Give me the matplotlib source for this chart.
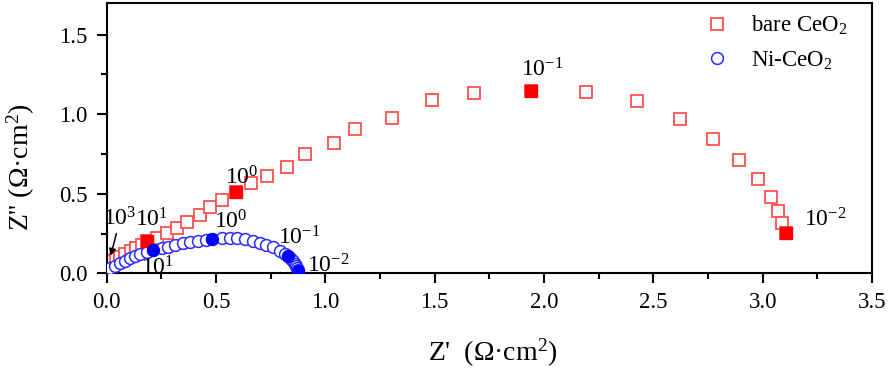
import numpy as np
import matplotlib
matplotlib.use("Agg")
import matplotlib.pyplot as plt
from matplotlib.ticker import MultipleLocator

plt.rcParams['font.family'] = ['Liberation Serif', 'DejaVu Serif']
plt.rcParams['mathtext.fontset'] = 'custom'
plt.rcParams['mathtext.rm'] = 'Liberation Serif'
plt.rcParams['mathtext.it'] = 'Liberation Serif:italic'

# bare CeO2 (Z', Z'')
bare_x = [0.004, 0.010, 0.018, 0.030, 0.045, 0.063, 0.085, 0.110, 0.135, 0.160,
          0.187,
          0.231, 0.276, 0.322, 0.368, 0.427, 0.473, 0.527,
          0.591,
          0.660, 0.733, 0.824, 0.906, 1.039, 1.135, 1.304, 1.486, 1.678,
          1.943,
          2.194, 2.427, 2.623, 2.774, 2.893, 2.979, 3.039, 3.071, 3.089,
          3.107]
bare_y = [0.045, 0.055, 0.065, 0.078, 0.090, 0.105, 0.122, 0.140, 0.158, 0.178,
          0.200,
          0.221, 0.253, 0.284, 0.322, 0.366, 0.416, 0.460,
          0.510,
          0.566, 0.610, 0.667, 0.748, 0.817, 0.905, 0.974, 1.087, 1.131,
          1.144,
          1.137, 1.081, 0.968, 0.843, 0.711, 0.592, 0.479, 0.391, 0.315,
          0.253]
bare_dec = [10, 18, 28, 38]   # indices of the 10^1, 10^0, 10^-1, 10^-2 points

# Ni-CeO2
ni_x = [0.004, 0.008, 0.016, 0.039, 0.062, 0.084, 0.107, 0.130, 0.153, 0.183,
        0.214,
        0.252, 0.283, 0.313, 0.351, 0.381, 0.419, 0.454,
        0.484,
        0.526, 0.564, 0.597, 0.632, 0.668, 0.701, 0.731, 0.762, 0.792, 0.815,
        0.830,
        0.843, 0.853, 0.861, 0.867, 0.871, 0.874, 0.876]
ni_y = [0.010, 0.020, 0.031, 0.046, 0.063, 0.077, 0.094, 0.109, 0.121, 0.136,
        0.146,
        0.157, 0.167, 0.177, 0.188, 0.194, 0.205, 0.209,
        0.216,
        0.219, 0.224, 0.222, 0.213, 0.205, 0.192, 0.178, 0.163, 0.142, 0.121,
        0.106,
        0.090, 0.075, 0.060, 0.046, 0.033, 0.022, 0.012]
ni_dec = [10, 18, 29, 36]

# frequency labels: (text, x, y)
bare_labels = [(r'$10^{1}$', 0.207, 0.334), (r'$10^{0}$', 0.62, 0.60),
               (r'$10^{-1}$', 1.99, 1.28), (r'$10^{-2}$', 3.286, 0.334)]
ni_labels = [(r'$10^{1}$', 0.231, 0.033), (r'$10^{0}$', 0.569, 0.322),
             (r'$10^{-1}$', 0.879, 0.221), (r'$10^{-2}$', 1.016, 0.046)]

red_edge = '#ff5050'
blue_edge = '#2a2aff'

fig = plt.figure(figsize=(8.93, 3.71), dpi=100)
ax = fig.add_axes([0.1193, 0.2633, 0.8572, 0.7294])

ax.plot(bare_x, bare_y, 's', ms=8, mfc='white', mec=red_edge, mew=1.3,
        ls='none', label='bare CeO$_2$', zorder=2)
ax.plot(ni_x, ni_y, 'o', ms=8.5, mfc='white', mec=blue_edge, mew=1.1,
        ls='none', label='Ni-CeO$_2$', zorder=3)
ax.plot([bare_x[i] for i in bare_dec], [bare_y[i] for i in bare_dec], 's',
        ms=8, color='#ff0000', ls='none', zorder=4)
ax.plot([ni_x[i] for i in ni_dec], [ni_y[i] for i in ni_dec], 'o',
        ms=8.5, color='#0000ff', ls='none', zorder=4)

for t, x, y in bare_labels + ni_labels:
    ax.text(x, y, t, fontsize=17, ha='center', va='center', zorder=5)

ax.annotate(r'$10^{3}$', xy=(0.019, 0.11), xytext=(0.062, 0.341),
            fontsize=17, ha='center', va='center',
            arrowprops=dict(arrowstyle='-|>', color='black', lw=1.1,
                            mutation_scale=10, shrinkA=0, shrinkB=0))

ax.set_xlim(0, 3.5)
ax.set_ylim(0, 1.70)
ax.xaxis.set_major_locator(MultipleLocator(0.5))
ax.xaxis.set_minor_locator(MultipleLocator(0.25))
ax.yaxis.set_major_locator(MultipleLocator(0.5))
ax.yaxis.set_minor_locator(MultipleLocator(0.25))
ax.tick_params(which='major', direction='out', length=7.5, width=1.5,
               labelsize=16.5, pad=6)
ax.tick_params(which='minor', direction='out', length=4.5, width=1.5)
for s in ax.spines.values():
    s.set_linewidth(1.5)

ax.set_xlabel("Z'  (Ω·cm$^2$)", fontsize=20)
ax.set_ylabel("Z'' (Ω·cm$^2$)", fontsize=20)
ax.xaxis.set_label_coords(0.504, -0.235)
ax.yaxis.set_label_coords(-0.091, 0.393)

ax.legend(loc='upper left', bbox_to_anchor=(0.783, 0.96), frameon=False,
          fontsize=16.5, handlelength=0.95, handletextpad=1.0, borderpad=0,
          borderaxespad=0, labelspacing=0.55)

fig.savefig('out.png', dpi=100)
